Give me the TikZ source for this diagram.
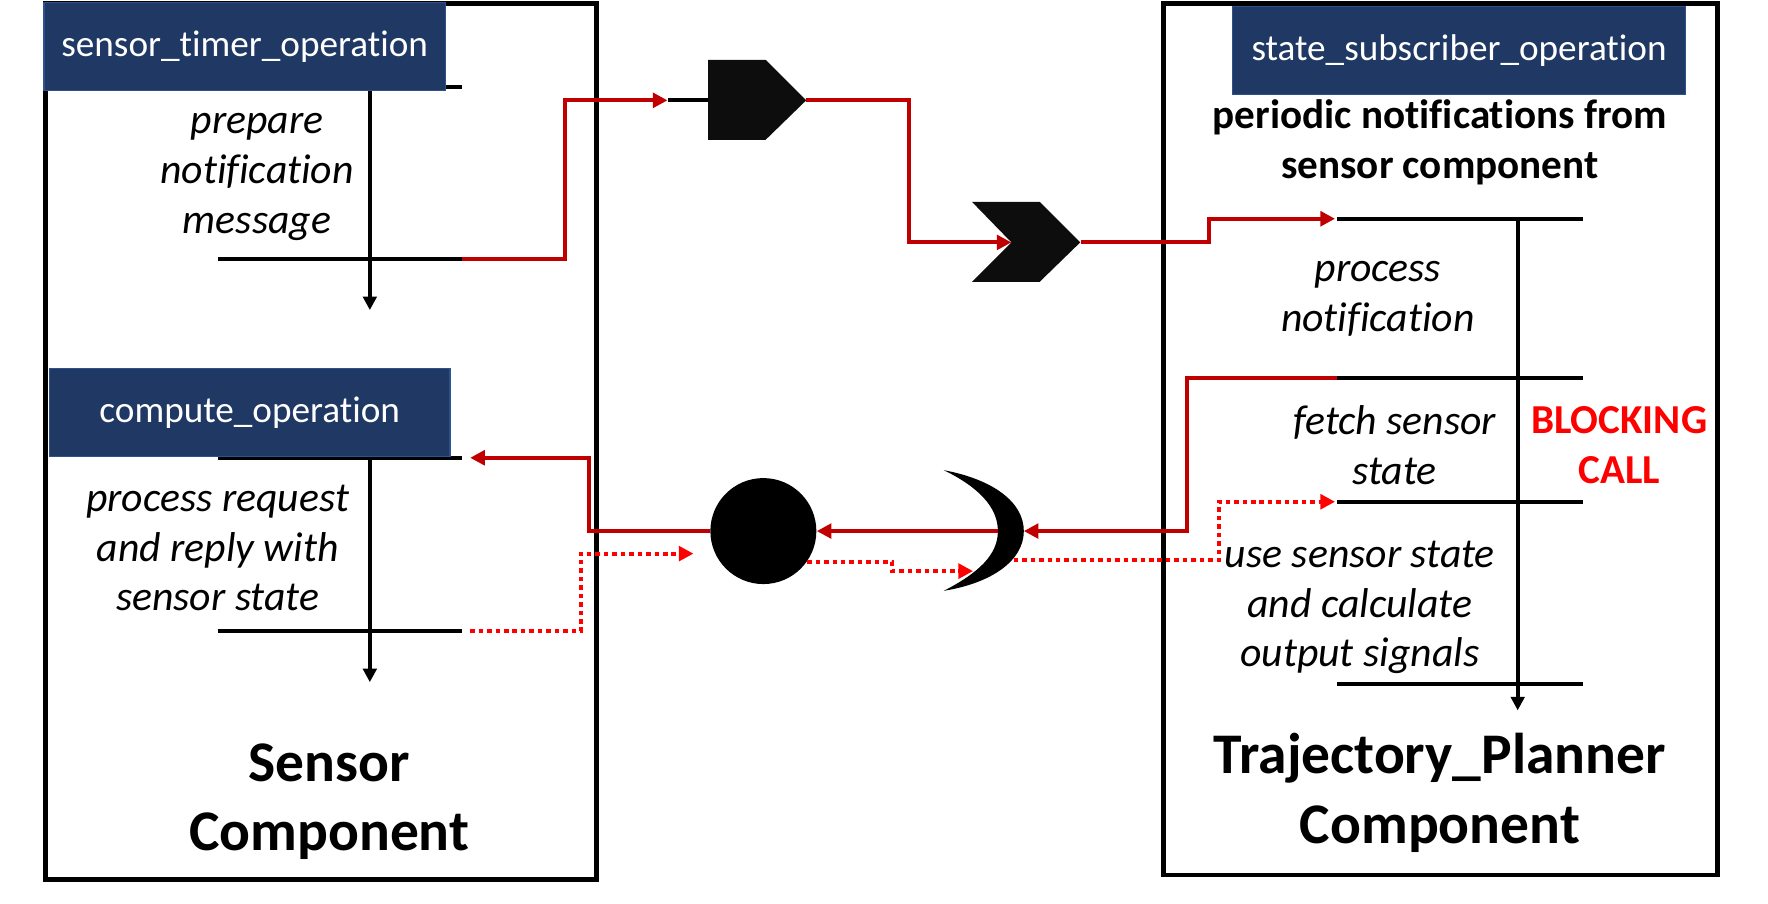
\documentclass[tikz,border=0pt]{standalone}
\usepackage{fontspec}
\setmainfont{Carlito}[Ligatures=NoCommon]
\usetikzlibrary{arrows.meta,positioning}
\definecolor{opblue}{HTML}{203864}
\definecolor{opedge}{HTML}{2F528F}
\definecolor{darkred}{HTML}{C00000}
\definecolor{brightred}{HTML}{FF0000}
\definecolor{portblack}{HTML}{0D0D0D}
\tikzset{
    %Define style for component boxes
    component/.style={
           rectangle,
           draw=black, line width=2.2pt,
           inner sep=0pt,
           },
    %Define style for operation boxes
    operation/.style={
           rectangle,
           fill=opblue, draw=opedge, line width=0.6pt,
           text=white,
           minimum width=178pt,
           minimum height=39pt,
           inner sep=0pt,
           font=\fontsize{16.5}{20}\selectfont,
           },
    activity/.style={
           align=center,
           inner sep=0pt,
           font=\fontsize{18.5}{22}\selectfont\itshape,
           },
    subhead/.style={
           align=center,
           inner sep=0pt,
           font=\fontsize{18.25}{22}\selectfont\bfseries,
           },
    heading/.style={
           align=center,
           inner sep=0pt,
           font=\fontsize{25.5}{31}\selectfont\bfseries,
           },
    % Define line styles
    tick/.style={line width=1.8pt},
    timeline/.style={
           line width=1.8pt,
           -{Triangle[length=6pt,width=6pt]},},
    call/.style={
           draw=darkred, line width=1.8pt,
           -{Triangle[length=6.5pt,width=6.5pt]},},
    reply/.style={
           draw=brightred, line width=1.8pt,
           dash pattern=on 2pt off 1.75pt,
           -{Triangle[length=6.5pt,width=6.5pt]},}
}
\begin{document}
\begin{tikzpicture}[x=0.5pt,y=-0.5pt]
\useasboundingbox (0,0) rectangle (1568,801);

 %components
\node[component, minimum width=244.5pt, minimum height=388.5pt] (sensor) at (284.5,391.5) {};
\node[component, minimum width=245.5pt, minimum height=386.5pt] (planner) at (1277.5,389.5) {};

 %sensor timelines
\draw[tick] (193,77) coordinate (s1a) -- (410,77) coordinate (s1b);
\draw[tick] (193,230) coordinate (s2a) -- (410,230) coordinate (s2b);
\draw[timeline] (328,77) -- (328,275);
\draw[tick] (193,406) coordinate (s3a) -- (410,406) coordinate (s3b);
\draw[tick] (193,560) coordinate (s4a) -- (410,560) coordinate (s4b);
\draw[timeline] (328,406) -- (328,605);

 %planner timeline
\draw[tick] (1186,194) coordinate (p1a) -- (1404,194) coordinate (p1b);
\draw[tick] (1186,335) coordinate (p2a) -- (1404,335) coordinate (p2b);
\draw[tick] (1186,445) coordinate (p3a) -- (1404,445) coordinate (p3b);
\draw[tick] (1186,607) coordinate (p4a) -- (1404,607) coordinate (p4b);
\draw[timeline, line width=1.6pt] (1346,196) -- (1346,630);

 %operations
\node[operation] (timerop) at (217,41) {sensor\_timer\_operation};
\node[operation, minimum width=177.5pt] (computeop) at (221.5,366) {compute\_operation};
\node[operation, minimum width=201pt] (subop) at (1294,45) {state\_subscriber\_operation};

 %texts
\node[activity] (prepare) at (228,157) {prepare\\notification\\message};
\node[activity] (request) at (193,486) {process request\\and reply with\\sensor state};
\node[subhead] (periodic) at (1277,126) {periodic notifications from\\sensor component};
\node[activity] (process) at (1222,265) {process\\notification};
\node[activity] (fetch) at (1237,395) {fetch sensor\\state};
\node[activity] (use) at (1206,539) {use sensor state\\and calculate\\output signals};
\node[subhead, text=brightred] (blocking) at (1436,395) {BLOCKING\\CALL};
\node[heading] (sensorname) at (292,711) {Sensor\\Component};
\node[heading] (plannername) at (1277,703) {Trajectory\_Planner\\Component};

 %ports
\fill[portblack] (628,53) -- (679,53) -- (715,89) -- (679,124) -- (628,124) -- cycle;
\coordinate (sendL) at (628,89);
\coordinate (sendR) at (715,89);
\fill[portblack] (862,179) -- (922,179) -- (958,215) -- (922,250) -- (862,250) -- (897,215) -- cycle;
\coordinate (recvL) at (897,215);
\coordinate (recvR) at (959,215);
\node[circle, fill=black, minimum size=47pt, inner sep=0pt] (client) at (677,471) {};
\fill (837,417) .. controls (880,425) and (908,445) .. (908,471)
      .. controls (908,497) and (880,517) .. (837,524)
      .. controls (868,508) and (885,492) .. (885,471)
      .. controls (885,450) and (868,432) .. (837,417) -- cycle;
\coordinate (srvL) at (885,471);
\coordinate (srvR) at (908,471);

 %notification path
\coordinate (k1) at (501,89);
\coordinate (k2) at (806,215);
\coordinate (k3) at (1072,194);
\coordinate (sendin) at (592,89);
\draw[tick] (sendin) -- (sendL);
\draw[call] (s2b) -| (k1) -- (sendin);
\draw[call] (sendR) -| (k2) -- (recvL);
\draw[call] (recvR) -| (k3) -- ([xshift=-1pt]p1a);

 %request path
\coordinate (k4) at (1053,471);
\coordinate (k5) at (522,406);
\draw[call] (p2a) -| (k4) -- (srvR);
\draw[call] (srvL) -- (client.east);
\draw[call] (client.west) -| (k5) -- ([xshift=3.5pt]s3b);

 %reply path
\coordinate (k6) at (515,491);
\coordinate (k7) at (791,506.5);
\coordinate (k8) at (1081,445);
\coordinate (clientin) at (615,491);
\coordinate (srvin) at (863,506.5);
\coordinate (srvout) at (899,497);
\draw[reply] ([xshift=3.5pt]s4b) -| (k6) -- (clientin);
\draw[reply] (client.-35) -| (k7) -- (srvin);
\draw[reply] (srvout) -| (k8) -- ([xshift=-1pt]p3a);

\end{tikzpicture}
\end{document}
